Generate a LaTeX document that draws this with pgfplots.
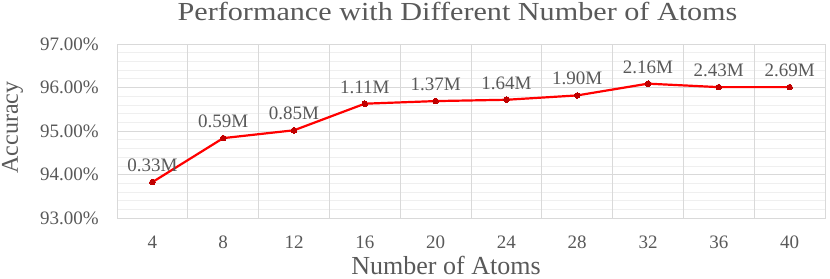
\documentclass[border=0pt]{standalone}
\usepackage{fontspec}
\setmainfont{Liberation Serif}
\newfontfamily\titlefont[FakeStretch=1.16]{Liberation Serif}
\usepackage{pgfplots}
\usepackage{pgfplotstable}
\pgfplotsset{compat=1.18}
\definecolor{txt}{HTML}{595959}
\definecolor{majgrid}{HTML}{D9D9D9}
\definecolor{mingrid}{HTML}{EFEFEF}
\definecolor{lred}{HTML}{FF0000}
\definecolor{dred}{HTML}{C00000}
\pgfplotstableread{
x y lab
0 93.83 0.33M
1 94.84 0.59M
2 95.02 0.85M
3 95.63 1.11M
4 95.69 1.37M
5 95.72 1.64M
6 95.82 1.90M
7 96.09 2.16M
8 96.01 2.43M
9 96.01 2.69M
}\datatable
\begin{document}
\begin{tikzpicture}
\path[use as bounding box] (0,0) rectangle (830bp,279bp);
\begin{axis}[
  at={(117bp,60.7bp)}, anchor=south west,
  scale only axis, width=708bp, height=174.3bp,
  xmin=-0.5, xmax=9.5, ymin=93, ymax=97,
  xtick={0,...,9},
  xticklabels={4,8,12,16,20,24,28,32,36,40},
  ytick={93,94,95,96,97},
  yticklabels={93.00\%,94.00\%,95.00\%,96.00\%,97.00\%},
  minor y tick num=4,
  ymajorgrids, yminorgrids,
  major y grid style={majgrid, line width=0.75bp},
  minor y grid style={mingrid, line width=0.75bp},
  extra x ticks={-0.5,0.5,...,9.5},
  extra x tick labels={},
  extra x tick style={xmajorgrids=true, major grid style={majgrid, line width=0.75bp}},
  major tick length=0pt, minor tick length=0pt,
  axis line style={majgrid, line width=0.75bp},
  tick label style={font=\fontsize{19bp}{22bp}\selectfont, text=txt},
  yticklabel style={inner sep=0pt, xshift=-18bp},
  xticklabel style={inner sep=0pt, yshift=-17bp},
  title={Performance with Different Number of Atoms},
  title style={at={(axis description cs:0.481,1.1377)}, anchor=base, yshift=-6pt, font=\titlefont\fontsize{26bp}{30bp}\selectfont, text=txt, inner sep=0pt},
  xlabel={Number of Atoms},
  xlabel style={at={(axis description cs:0.4647,-0.322)}, anchor=base, font=\fontsize{26bp}{30bp}\selectfont, text=txt, inner sep=0pt},
  ylabel={Accuracy},
  ylabel style={at={(axis description cs:-0.1476,0.521)}, anchor=center, font=\fontsize{24bp}{28bp}\selectfont, text=txt, inner sep=0pt},
  clip=false,
  nodes near coords={\pgfplotspointmeta},
  point meta=explicit symbolic,
  every node near coord/.append style={anchor=base, yshift=10.5bp, inner sep=0pt, font=\fontsize{19bp}{22bp}\selectfont, text=txt},
]
\addplot[lred, line width=2.2bp, mark=*, mark size=2.8bp, mark options={fill=dred, draw=dred, line width=0pt}] table[x=x, y=y, meta=lab] {\datatable};
\end{axis}
\end{tikzpicture}
\end{document}
